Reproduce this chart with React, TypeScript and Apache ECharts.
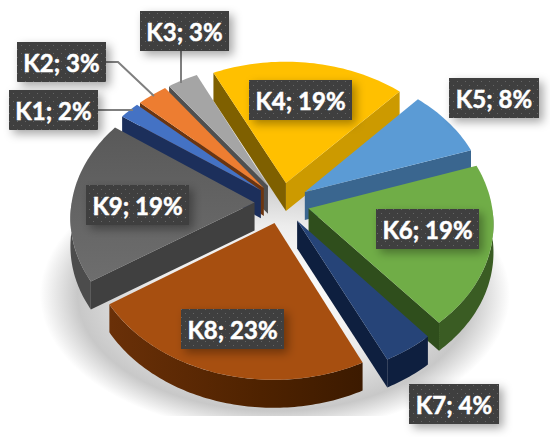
import React, { useEffect, useRef } from "react";
import * as echarts from "echarts";

const categories = ["K1", "K2", "K3", "K4", "K5", "K6", "K7", "K8", "K9"];
const percents = [2, 3, 3, 19, 8, 19, 4, 23, 19];

const topColors = ["#4472C4", "#ED7D31", "#A5A5A5", "#FFC000", "#5B9BD5", "#70AD47", "#264478", "#A74F10", "#5F5F5F"];
const startWallColors = ["#1C2F5B", "#6B3510", "#4F4F4F", "#7F6000", "#2F5070", "#2F4E1C", "#0E1F3F", "#3F1D00", "#404040"];
const endWallColors = ["#1C2F5B", "#6B3510", "#4F4F4F", "#CC9A00", "#3A668F", "#2F4E1C", "#0E1F3F", "#3F1D00", "#404040"];
const arcWallColors = ["#1C2F5B", "#6B3510", "#4F4F4F", "#7F6000", "#2F5070", "#3A5C23", "#0E1F3F", "#4A2100", "#4C4C4C"];

const drawOrder = [2, 1, 0, 8, 3, 4, 5, 6, 7];
const FIRST_ANGLE = 305.4;
const EXPLODE = 0.15;
const VIEW = { cx: 282, cy: 203, rx: 183, ry: 137, persp: 0.0988, depth: 28 };

// label boxes: left, top, width (height is fixed)
const labelBoxes = [
  [9, 90, 89], [17, 42, 89], [140, 11, 89], [249, 80, 103], [449, 78, 90],
  [376, 209, 103], [409, 384, 90], [181, 309, 103], [86, 185, 103],
];
const leaderLines: number[][][] = [
  [[98, 110], [133, 110]],
  [[106, 62], [118, 62], [154, 96]],
  [[181, 51], [181, 83]],
];

const rad = (d: number) => (d * Math.PI) / 180;

function project(u: number, v: number): number[] {
  const s = 1 / (1 - VIEW.persp * v);
  return [VIEW.cx + VIEW.rx * u * s, VIEW.cy + VIEW.ry * v * s, s];
}

function sliceAngles(idx: number) {
  const total = percents.reduce((a, b) => a + b, 0);
  let acc = 0;
  for (let i = 0; i < idx; i++) acc += percents[i];
  const a = FIRST_ANGLE + (acc / total) * 360;
  const b = a + (percents[idx] / total) * 360;
  return [a, b];
}

function down(p: number[]) {
  return [p[0], p[1] + VIEW.depth];
}

function renderSlice(_: any, api: any) {
  const idx = api.value(0);
  const [a, b] = sliceAngles(idx);
  const m = rad((a + b) / 2);
  const tu = EXPLODE * Math.sin(m);
  const tv = -EXPLODE * Math.cos(m);
  const at = (deg: number) => project(tu + Math.sin(rad(deg)), tv - Math.cos(rad(deg)));
  const tip = project(tu, tv);
  const arc: number[][] = [];
  const steps = Math.max(4, Math.ceil((b - a) / 1.5));
  for (let i = 0; i <= steps; i++) arc.push(at(a + ((b - a) * i) / steps));
  const children: any[] = [];
  const poly = (pts: number[][], fill: any) =>
    children.push({ type: "polygon", shape: { points: pts.map((p) => [p[0], p[1]]) }, style: { fill } });

  if (Math.sin(rad(a)) < 0) poly([tip, arc[0], down(arc[0]), down(tip)], startWallColors[idx]);
  if (Math.sin(rad(b)) > 0) poly([tip, arc[steps], down(arc[steps]), down(tip)], endWallColors[idx]);

  // outer wall: only the part of the rim that faces the viewer
  const front: number[][] = [];
  for (let d = a; d <= b; d += 1) {
    const n = ((d % 360) + 360) % 360;
    if (n >= 90 && n <= 270) front.push(at(d));
  }
  const nb = ((b % 360) + 360) % 360;
  if (front.length && nb >= 90 && nb <= 270) front.push(at(b));
  if (front.length > 1) {
    const fill =
      idx === 7
        ? new echarts.graphic.LinearGradient(0, 0, 1, 0, [
            { offset: 0, color: "#6A3008" },
            { offset: 0.6, color: "#4E2200" },
            { offset: 1, color: "#3C1A00" },
          ])
        : arcWallColors[idx];
    poly([...front, ...front.slice().reverse().map(down)], fill);
  }
  const topFill =
    idx === 8
      ? new echarts.graphic.LinearGradient(0, 0, 0, 1, [
          { offset: 0, color: "#595959" },
          { offset: 1, color: "#6E6E6E" },
        ])
      : topColors[idx];
  poly([tip, ...arc], topFill);
  return { type: "group", children };
}

function renderShadow() {
  return {
    type: "group",
    children: [
      {
        type: "ellipse",
        shape: { cx: 275, cy: 295, rx: 235, ry: 138 },
        style: {
          fill: new echarts.graphic.RadialGradient(0.5, 0.5, 0.5, [
            { offset: 0, color: "#ffffff" },
            { offset: 0.5, color: "#ededed" },
            { offset: 0.84, color: "#c8c8c8" },
            { offset: 1, color: "rgba(200,200,200,0)" },
          ]),
        },
      },
      { type: "rect", shape: { x: 0, y: 416, width: 550, height: 21 }, style: { fill: "#ffffff" } },
    ],
  };
}

function dotPattern(): any {
  const c = document.createElement("canvas");
  c.width = 8;
  c.height = 8;
  const g = c.getContext("2d")!;
  g.fillStyle = "#3F3F3F";
  g.fillRect(0, 0, 8, 8);
  g.fillStyle = "rgba(255,255,255,0.2)";
  g.fillRect(1, 1, 1, 1);
  g.fillRect(5, 5, 1, 1);
  return { image: c, repeat: "repeat" };
}

function App() {
  const ref = useRef<HTMLDivElement>(null);
  useEffect(() => {
    document.body.style.margin = "0";
    const chart = echarts.init(ref.current!, undefined, { renderer: "svg" });
    const pattern = dotPattern();
    const renderLabel = (_: any, api: any) => {
      const idx = api.value(0);
      const [x, y, w] = labelBoxes[idx];
      const h = 40;
      const children: any[] = [];
      if (leaderLines[idx]) {
        children.push({
          type: "polyline",
          shape: { points: leaderLines[idx] },
          style: { stroke: "#7F7F7F", lineWidth: 2, fill: "none" },
        });
      }
      children.push({
        type: "rect",
        shape: { x, y, width: w, height: h },
        style: { fill: "#3F3F3F", shadowBlur: 10, shadowOffsetX: 4, shadowOffsetY: 4, shadowColor: "rgba(0,0,0,0.35)" },
      });
      children.push({ type: "rect", shape: { x, y, width: w, height: h }, style: { fill: pattern } });
      children.push({
        type: "text",
        style: {
          x: x + w / 2,
          y: y + h / 2,
          text: `${categories[idx]}; ${percents[idx]}%`,
          fill: "#ffffff",
          stroke: "#ffffff",
          lineWidth: 0.5,
          font: "bold 24px Lato",
          align: "center",
          verticalAlign: "middle",
          textAlign: "center",
          textVerticalAlign: "middle",
        },
      });
      return { type: "group", children };
    };
    const sliceData = drawOrder.map((i) => [i, percents[i]]);
    chart.setOption({
      animation: false,
      backgroundColor: "#ffffff",
      series: [
        { type: "custom", coordinateSystem: "none", z: 1, silent: true, data: [[0]], renderItem: renderShadow },
        { type: "custom", coordinateSystem: "none", z: 2, silent: true, data: sliceData, renderItem: renderSlice },
        { type: "custom", coordinateSystem: "none", z: 3, silent: true, data: sliceData, renderItem: renderLabel },
      ],
    });
    return () => chart.dispose();
  }, []);
  return <div ref={ref} style={{ width: 550, height: 437 }} />;
}

export default App;
